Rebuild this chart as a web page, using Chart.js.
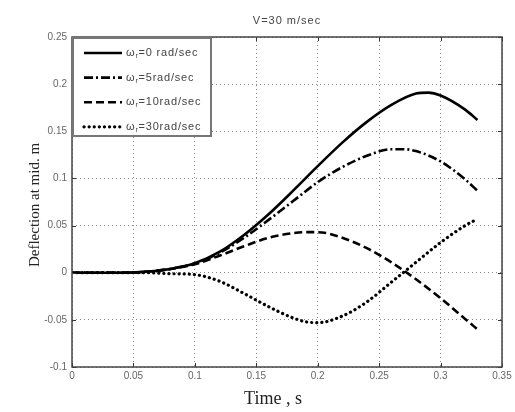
<!DOCTYPE html>
<html><head><meta charset="utf-8">
<script src="https://cdn.jsdelivr.net/npm/chart.js@4.4.1/dist/chart.umd.min.js"></script>
<style>html,body{margin:0;padding:0;background:#fff}#wrap{width:515px;height:412px}</style>
</head><body><div id="wrap"><canvas id="c" width="515" height="412"></canvas></div>
<script>
const titleText = 'V=30 m/sec';
const xTitle = 'Time , s';
const yTitle = 'Deflection at mid. m';
const xTicks = [0, 0.05, 0.1, 0.15, 0.2, 0.25, 0.3, 0.35];
const yTicks = [-0.1, -0.05, 0, 0.05, 0.1, 0.15, 0.2, 0.25];
const seriesNames = ['=0 rad/sec', '=5rad/sec', '=10rad/sec', '=30rad/sec'];

const tW0  = [0, 0.02, 0.04, 0.06, 0.08, 0.10, 0.12, 0.14, 0.16, 0.18, 0.20, 0.22, 0.24, 0.26, 0.28, 0.29, 0.30, 0.32, 0.33];
const yW0  = [0, 0, 0, 0.001, 0.004, 0.010, 0.022, 0.040, 0.062, 0.087, 0.113, 0.138, 0.160, 0.178, 0.190, 0.191, 0.188, 0.173, 0.162];

const tW5  = [0, 0.02, 0.04, 0.06, 0.08, 0.10, 0.12, 0.14, 0.16, 0.18, 0.20, 0.22, 0.24, 0.26, 0.27, 0.28, 0.30, 0.32, 0.33];
const yW5  = [0, 0, 0, 0.001, 0.004, 0.010, 0.021, 0.037, 0.056, 0.076, 0.096, 0.112, 0.124, 0.131, 0.131, 0.129, 0.118, 0.099, 0.087];

const tW10 = [0, 0.02, 0.04, 0.06, 0.08, 0.10, 0.12, 0.14, 0.16, 0.18, 0.19, 0.20, 0.22, 0.24, 0.26, 0.28, 0.30, 0.32, 0.33];
const yW10 = [0, 0, 0, 0.001, 0.004, 0.009, 0.018, 0.028, 0.037, 0.042, 0.043, 0.043, 0.037, 0.026, 0.011, -0.007, -0.027, -0.049, -0.060];

const tW30 = [0, 0.02, 0.04, 0.06, 0.08, 0.10, 0.12, 0.14, 0.16, 0.18, 0.19, 0.20, 0.22, 0.24, 0.26, 0.28, 0.30, 0.32, 0.33];
const yW30 = [0, 0, 0, 0, -0.001, -0.002, -0.009, -0.022, -0.036, -0.048, -0.052, -0.053, -0.046, -0.031, -0.010, 0.011, 0.032, 0.050, 0.057];

const pts = (t, y) => t.map((v, i) => ({x: v, y: y[i]}));
const styles = [
  {dash: [], cap: 'butt', w: 2.6},
  {dash: [9, 3, 2, 3], cap: 'butt', w: 2.6},
  {dash: [8, 4], cap: 'butt', w: 2.6},
  {dash: [0.1, 5], cap: 'round', w: 3.2}
];
const series = [pts(tW0, yW0), pts(tW5, yW5), pts(tW10, yW10), pts(tW30, yW30)];

const datasets = series.map((d, i) => ({
  label: 'ωr' + seriesNames[i],
  data: d,
  borderColor: '#000',
  borderWidth: styles[i].w,
  borderDash: styles[i].dash,
  borderCapStyle: styles[i].cap,
  pointRadius: 0,
  fill: false,
  cubicInterpolationMode: 'monotone'
}));

const decor = {
  id: 'decor',
  afterDraw(chart) {
    const {ctx, chartArea: a, scales: {x, y}} = chart;
    ctx.save();
    ctx.strokeStyle = '#333'; ctx.lineWidth = 1; ctx.setLineDash([]);
    xTicks.forEach(v => {
      const px = Math.round(x.getPixelForValue(v)) + 0.5;
      ctx.beginPath(); ctx.moveTo(px, a.bottom); ctx.lineTo(px, a.bottom - 4);
      ctx.moveTo(px, a.top); ctx.lineTo(px, a.top + 4); ctx.stroke();
    });
    yTicks.forEach(v => {
      const py = Math.round(y.getPixelForValue(v)) + 0.5;
      ctx.beginPath(); ctx.moveTo(a.left, py); ctx.lineTo(a.left + 4, py);
      ctx.moveTo(a.right, py); ctx.lineTo(a.right - 4, py); ctx.stroke();
    });
    ctx.strokeStyle = '#444'; ctx.lineWidth = 1.5;
    ctx.strokeRect(a.left, a.top, a.right - a.left, a.bottom - a.top);

    // legend
    const lx = a.left, ly = a.top, lw = 139, lh = 99;
    ctx.fillStyle = '#fff';
    ctx.fillRect(lx, ly, lw, lh);
    ctx.strokeStyle = '#777'; ctx.lineWidth = 2;
    ctx.strokeRect(lx + 1, ly + 1, lw - 1, lh - 1);
    chart.data.datasets.forEach((ds, i) => {
      const yy = ly + 16 + i * 24.6;
      ctx.strokeStyle = '#000';
      ctx.lineWidth = ds.borderWidth;
      ctx.lineCap = ds.borderCapStyle;
      ctx.setLineDash(ds.borderDash);
      ctx.beginPath(); ctx.moveTo(lx + 12, yy); ctx.lineTo(lx + 50, yy); ctx.stroke();
      ctx.setLineDash([]);
      ctx.fillStyle = '#444';
      ctx.textBaseline = 'middle'; ctx.textAlign = 'left';
      ctx.letterSpacing = '0.8px';
      let tx = lx + 54;
      ctx.font = '11px "Liberation Sans", Arial, sans-serif';
      ctx.fillText('ω', tx, yy); tx += ctx.measureText('ω').width;
      ctx.font = '7px "Liberation Sans", Arial, sans-serif';
      ctx.fillText('r', tx, yy + 3); tx += ctx.measureText('r').width;
      ctx.font = '11px "Liberation Sans", Arial, sans-serif';
      ctx.fillText(seriesNames[i], tx, yy);
    });

    // title
    ctx.fillStyle = '#444';
    ctx.letterSpacing = '1px';
    ctx.font = '11px "Liberation Sans", Arial, sans-serif';
    ctx.textAlign = 'center'; ctx.textBaseline = 'middle';
    ctx.fillText(titleText, (a.left + a.right) / 2, 21);
    ctx.letterSpacing = '0px';
    ctx.fillStyle = '#222';
    ctx.font = '18px "Liberation Serif", "Times New Roman", serif';
    ctx.fillText(xTitle, (a.left + a.right) / 2 - 14, 399);
    ctx.save();
    ctx.translate(35, (a.top + a.bottom) / 2 + 3);
    ctx.rotate(-Math.PI / 2);
    ctx.font = '15px "Liberation Serif", "Times New Roman", serif';
    ctx.fillText(yTitle, 0, 0);
    ctx.restore();
    ctx.restore();
  }
};

new Chart(document.getElementById('c'), {
  type: 'line',
  data: {datasets},
  options: {
    responsive: false,
    animation: false,
    events: [],
    layout: {padding: {left: 0, right: 13, top: 37, bottom: 0}},
    plugins: {legend: {display: false}, title: {display: false}, tooltip: {enabled: false}},
    scales: {
      x: {
        type: 'linear', min: 0, max: 0.35,
        afterBuildTicks: s => { s.ticks = xTicks.map(v => ({value: v})); },
        afterFit: s => { s.height = 45; },
        ticks: {color: '#666', font: {size: 10, family: '"Liberation Sans", Arial, sans-serif'}, padding: 3, maxRotation: 0,
                callback: v => String(v)},
        grid: {color: '#888', lineWidth: 1, drawTicks: false},
        border: {display: false, dash: [1, 3]}
      },
      y: {
        type: 'linear', min: -0.1, max: 0.25,
        afterBuildTicks: s => { s.ticks = yTicks.map(v => ({value: v})); },
        afterFit: s => { s.width = 72; },
        ticks: {color: '#666', font: {size: 10, family: '"Liberation Sans", Arial, sans-serif'}, padding: 5,
                callback: v => String(v)},
        grid: {color: '#888', lineWidth: 1, drawTicks: false},
        border: {display: false, dash: [1, 3]}
      }
    }
  },
  plugins: [decor]
});
</script></body></html>
